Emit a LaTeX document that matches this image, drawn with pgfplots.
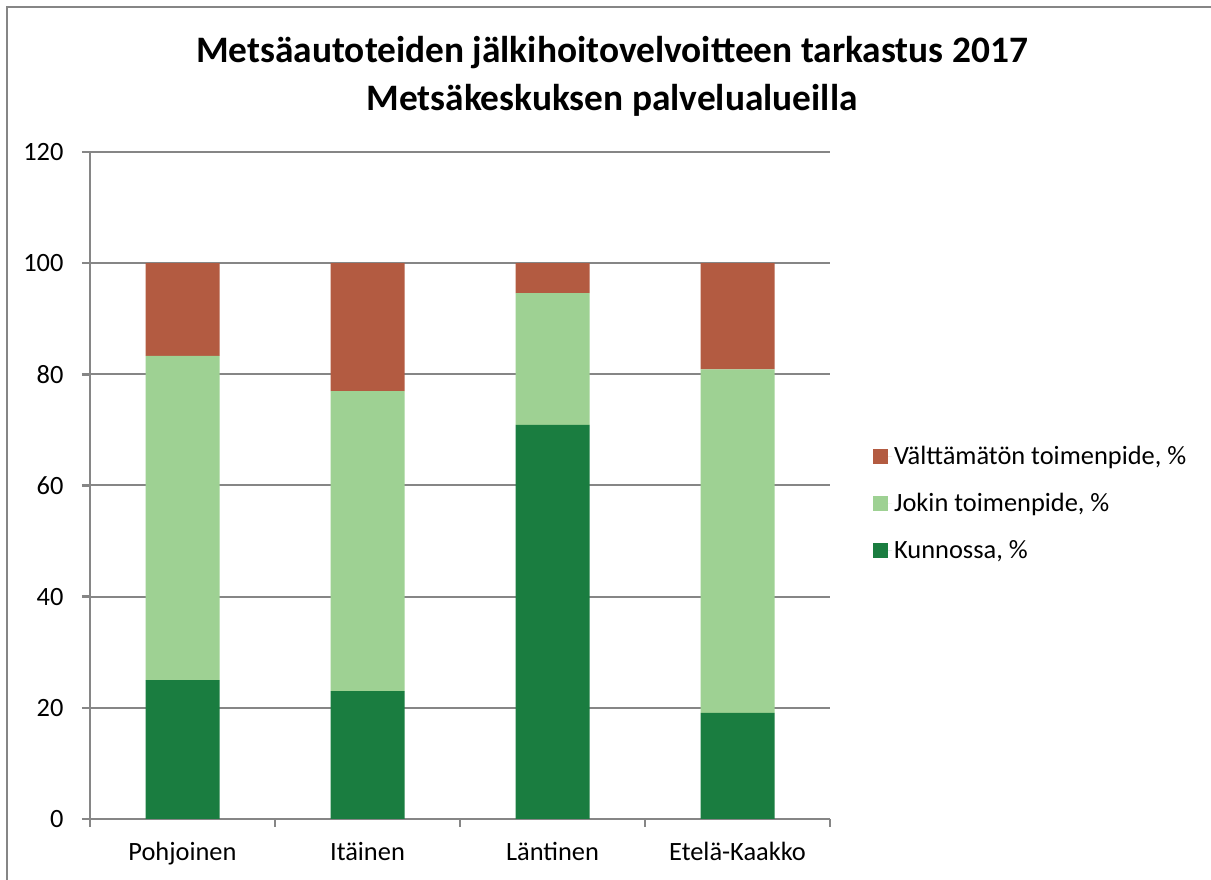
\documentclass[border=0pt]{standalone}
\usepackage{fontspec}
\setmainfont{Carlito}
\usepackage{pgfplots}
\pgfplotsset{compat=1.18}
\definecolor{cred}{HTML}{B35B41}
\definecolor{clight}{HTML}{9ED193}
\definecolor{cdark}{HTML}{1A7D40}
\definecolor{axgray}{HTML}{868686}
\begin{document}
\begin{tikzpicture}
\useasboundingbox (0,0) rectangle (1211bp,880bp);
\fill[white] (0,0) rectangle (1211bp,880bp);
\draw[color=axgray, line width=1.5bp] (7bp,-20bp) rectangle (1230bp,873bp);
\node[font=\fontsize{37.5}{48}\selectfont\bfseries, align=center] at (612bp,804bp) {Metsäautoteiden jälkihoitovelvoitteen tarkastus 2017\\Metsäkeskuksen palvelualueilla};
\begin{axis}[
  at={(90bp,61bp)}, anchor=south west,
  scale only axis, width=740bp, height=667bp,
  ybar stacked, bar width=74bp,
  xmin=-0.5, xmax=3.5, ymin=0, ymax=120,
  ytick={0,20,...,120},
  xtick={0,1,2,3},
  xticklabels={Pohjoinen,Itäinen,Läntinen,Etelä-Kaakko},
  minor xtick={-0.5,0.5,1.5,2.5,3.5},
  axis x line*=bottom, axis y line*=left,
  axis line style={draw=axgray, line width=2.5bp},
  tick align=outside,
  major tick length=8bp, minor tick length=8bp,
  major x tick style={draw=none},
  minor x tick style={draw=axgray, line width=2.5bp},
  ytick style={draw=axgray, line width=2.5bp},
  ymajorgrids, grid style={draw=axgray, line width=2bp},
  /pgf/number format/assume math mode=true,
  tick label style={font=\fontsize{26.5}{32}\selectfont, text=black},
  yticklabel style={xshift=-15bp},
  xticklabel style={yshift=-12bp},
  legend style={at={(1.054,0.5645)}, anchor=north west, draw=none, fill=none,
    font=\fontsize{26.5}{32}\selectfont, row sep=23bp, legend cell align=left},
  reverse legend,
  legend image code/.code={\fill[#1] (0bp,-7.5bp) rectangle (15bp,7.5bp);\path (0bp,0bp) -- (19bp,0bp);},
]
\addplot[fill=cdark, draw=none] coordinates {(0,25) (1,23) (2,70.9) (3,19.1)};
\addplot[fill=clight, draw=none] coordinates {(0,58.3) (1,54) (2,23.7) (3,61.8)};
\addplot[fill=cred, draw=none] coordinates {(0,16.7) (1,23) (2,5.4) (3,19.1)};
\legend{{Kunnossa, \%},{Jokin toimenpide, \%},{Välttämätön toimenpide, \%}}
\end{axis}
\end{tikzpicture}
\end{document}
